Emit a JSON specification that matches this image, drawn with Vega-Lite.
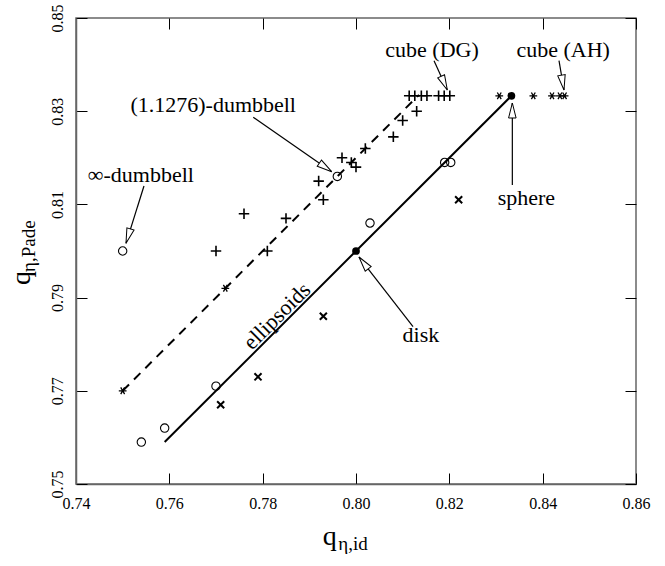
{
  "$schema": "https://vega.github.io/schema/vega-lite/v6.json",
  "width": 560,
  "height": 466,
  "autosize": {"type": "none"},
  "padding": {"left": 76, "top": 18, "right": 29, "bottom": 82},
  "background": "white",
  "config": {
    "font": "Liberation Serif",
    "view": {"stroke": "#666666", "strokeWidth": 1.5},
    "axis": {
      "labelFont": "Liberation Serif",
      "labelFontSize": 16,
      "labelColor": "black",
      "domainColor": "#666666",
      "domainWidth": 1.5,
      "tickColor": "black",
      "tickWidth": 1,
      "tickSize": -11,
      "grid": false,
      "labelFlush": false,
      "labelOverlap": false,
      "titleFont": "Liberation Serif"
    }
  },
  "datasets": {
    "points": [
      {"kind": "circle", "x": 0.75, "y": 0.80},
      {"kind": "circle", "x": 0.796, "y": 0.816},
      {"kind": "circle", "x": 0.819, "y": 0.819},
      {"kind": "circle", "x": 0.8203, "y": 0.819},
      {"kind": "circle", "x": 0.803, "y": 0.806},
      {"kind": "circle", "x": 0.770, "y": 0.771},
      {"kind": "circle", "x": 0.759, "y": 0.762},
      {"kind": "circle", "x": 0.754, "y": 0.759},
      {"kind": "cross", "x": 0.771, "y": 0.767},
      {"kind": "cross", "x": 0.779, "y": 0.773},
      {"kind": "cross", "x": 0.793, "y": 0.786},
      {"kind": "cross", "x": 0.822, "y": 0.811},
      {"kind": "plus", "x": 0.770, "y": 0.800},
      {"kind": "plus", "x": 0.776, "y": 0.808},
      {"kind": "plus", "x": 0.781, "y": 0.800},
      {"kind": "plus", "x": 0.785, "y": 0.807},
      {"kind": "plus", "x": 0.793, "y": 0.811},
      {"kind": "plus", "x": 0.792, "y": 0.815},
      {"kind": "plus", "x": 0.797, "y": 0.820},
      {"kind": "plus", "x": 0.799, "y": 0.819},
      {"kind": "plus", "x": 0.800, "y": 0.818},
      {"kind": "plus", "x": 0.802, "y": 0.822},
      {"kind": "plus", "x": 0.808, "y": 0.8245},
      {"kind": "plus", "x": 0.810, "y": 0.828},
      {"kind": "plus", "x": 0.813, "y": 0.830},
      {"kind": "plus", "x": 0.8114, "y": 0.8333},
      {"kind": "plus", "x": 0.8126, "y": 0.8333},
      {"kind": "plus", "x": 0.8140, "y": 0.8333},
      {"kind": "plus", "x": 0.8152, "y": 0.8333},
      {"kind": "plus", "x": 0.8177, "y": 0.8333},
      {"kind": "plus", "x": 0.8189, "y": 0.8333},
      {"kind": "plus", "x": 0.8201, "y": 0.8333},
      {"kind": "star", "x": 0.75, "y": 0.77},
      {"kind": "star", "x": 0.772, "y": 0.792},
      {"kind": "star", "x": 0.8307, "y": 0.8333},
      {"kind": "star", "x": 0.838, "y": 0.8333},
      {"kind": "star", "x": 0.842, "y": 0.8333},
      {"kind": "star", "x": 0.8437, "y": 0.8333},
      {"kind": "star", "x": 0.8447, "y": 0.8333},
      {"kind": "dot", "x": 0.80, "y": 0.80},
      {"kind": "dot", "x": 0.8333, "y": 0.8333}
    ],
    "lines": [
      {"series": "ellipsoids", "x": 0.759, "y": 0.759},
      {"series": "ellipsoids", "x": 0.8333, "y": 0.8333},
      {"series": "dumbbell", "x": 0.75, "y": 0.77},
      {"series": "dumbbell", "x": 0.8135, "y": 0.8335}
    ],
    "arrows": [
      {"name": "cube (DG)", "x1": 0.81672, "y1": 0.84084, "x2": 0.81957, "y2": 0.83455},
      {"name": "cube (AH)", "x1": 0.8435, "y1": 0.84084, "x2": 0.84457, "y2": 0.83455},
      {"name": "sphere", "x1": 0.8335, "y1": 0.81416, "x2": 0.8335, "y2": 0.83176},
      {"name": "disk", "x1": 0.81222, "y1": 0.78376, "x2": 0.80064, "y2": 0.79871},
      {"name": "(1.1276)-dumbbell", "x1": 0.77799, "y1": 0.82869, "x2": 0.79479, "y2": 0.81702},
      {"name": "∞-dumbbell", "x1": 0.75457, "y1": 0.81395, "x2": 0.75071, "y2": 0.80165}
    ],
    "labels": [
      {"text": "cube (DG)", "x": 0.8163, "y": 0.8431},
      {"text": "cube (AH)", "x": 0.8444, "y": 0.8431},
      {"text": "(1.1276)-dumbbell", "x": 0.7694, "y": 0.8313},
      {"text": "∞-dumbbell", "x": 0.7539, "y": 0.8163},
      {"text": "sphere", "x": 0.8365, "y": 0.8113},
      {"text": "disk", "x": 0.8139, "y": 0.7820}
    ],
    "rotlabels": [
      {"text": "ellipsoids", "x": 0.78307, "y": 0.78605}
    ],
    "titles": [
      {"part": "xmain", "text": "q", "x": 0.7959, "y": 0.73691},
      {"part": "xsub", "text": "η,id", "x": 0.7962, "y": 0.73584},
      {"part": "ymain", "text": "q", "x": 0.7301, "y": 0.7957},
      {"part": "ysub", "text": "η,Pade", "x": 0.73121, "y": 0.7955}
    ]
  },
  "resolve": {"axis": {"x": "independent", "y": "independent"}},
  "layer": [
    {
      "data": {"name": "lines"},
      "transform": [{"filter": "datum.series === 'ellipsoids'"}],
      "mark": {"type": "line", "color": "black", "strokeWidth": 2},
      "encoding": {
        "x": {"field": "x", "type": "quantitative", "scale": {"domain": [0.74, 0.86], "nice": false, "zero": false},
          "axis": {"orient": "bottom", "values": [0.74, 0.76, 0.78, 0.80, 0.82, 0.84, 0.86], "format": ".2f", "labelPadding": 22, "title": null}},
        "y": {"field": "y", "type": "quantitative", "scale": {"domain": [0.75, 0.85], "nice": false, "zero": false},
          "axis": {"orient": "left", "values": [0.75, 0.77, 0.79, 0.81, 0.83, 0.85], "format": ".2f", "labelAngle": -90, "labelAlign": "center", "labelBaseline": "bottom", "labelPadding": 22, "title": null}}
      }
    },
    {
      "data": {"name": "lines"},
      "transform": [{"filter": "datum.series === 'dumbbell'"}],
      "mark": {"type": "line", "color": "black", "strokeWidth": 2, "strokeDash": [9, 7]},
      "encoding": {
        "x": {"field": "x", "type": "quantitative", "scale": {"domain": [0.74, 0.86], "nice": false, "zero": false},
          "axis": {"orient": "top", "values": [0.74, 0.76, 0.78, 0.80, 0.82, 0.84, 0.86], "labels": false, "domain": false, "title": null}},
        "y": {"field": "y", "type": "quantitative", "scale": {"domain": [0.75, 0.85], "nice": false, "zero": false},
          "axis": {"orient": "right", "values": [0.75, 0.77, 0.79, 0.81, 0.83, 0.85], "labels": false, "domain": false, "title": null}}
      }
    },
    {
      "data": {"name": "arrows"},
      "mark": {"type": "rule", "color": "black", "strokeWidth": 1.2},
      "encoding": {
        "x": {"field": "x1", "type": "quantitative", "axis": null},
        "y": {"field": "y1", "type": "quantitative", "axis": null},
        "x2": {"field": "x2"},
        "y2": {"field": "y2"}
      }
    },
    {
      "data": {"name": "arrows"},
      "transform": [{"calculate": "atan2((datum.x2 - datum.x1) * 560 / 0.12, (datum.y2 - datum.y1) * 466 / 0.10) * 180 / PI", "as": "dir"}],
      "mark": {"type": "point", "shape": "M0,0L-0.25,1L0.25,1Z", "size": 900, "filled": true, "fill": "white", "stroke": "black", "strokeWidth": 1, "opacity": 1},
      "encoding": {
        "x": {"field": "x2", "type": "quantitative", "axis": null},
        "y": {"field": "y2", "type": "quantitative", "axis": null},
        "angle": {"field": "dir", "type": "quantitative", "scale": null}
      }
    },
    {
      "data": {"name": "points"},
      "transform": [{"filter": "datum.kind === 'circle'"}],
      "mark": {"type": "point", "shape": "circle", "size": 70, "filled": false, "stroke": "black", "strokeWidth": 1.1, "opacity": 1},
      "encoding": {
        "x": {"field": "x", "type": "quantitative", "axis": null},
        "y": {"field": "y", "type": "quantitative", "axis": null}
      }
    },
    {
      "data": {"name": "points"},
      "transform": [{"filter": "datum.kind === 'cross'"}],
      "mark": {"type": "point", "shape": "M-1,-1L1,1M-1,1L1,-1", "size": 50, "filled": false, "stroke": "black", "strokeWidth": 2, "opacity": 1},
      "encoding": {
        "x": {"field": "x", "type": "quantitative", "axis": null},
        "y": {"field": "y", "type": "quantitative", "axis": null}
      }
    },
    {
      "data": {"name": "points"},
      "transform": [{"filter": "datum.kind === 'plus'"}],
      "mark": {"type": "point", "shape": "M-1,0L1,0M0,-1L0,1", "size": 110, "filled": false, "stroke": "black", "strokeWidth": 1.6, "opacity": 1},
      "encoding": {
        "x": {"field": "x", "type": "quantitative", "axis": null},
        "y": {"field": "y", "type": "quantitative", "axis": null}
      }
    },
    {
      "data": {"name": "points"},
      "transform": [{"filter": "datum.kind === 'star'"}],
      "mark": {"type": "point", "shape": "M-1,0L1,0M-0.5,-0.87L0.5,0.87M-0.5,0.87L0.5,-0.87", "size": 60, "filled": false, "stroke": "black", "strokeWidth": 1.3, "opacity": 1},
      "encoding": {
        "x": {"field": "x", "type": "quantitative", "axis": null},
        "y": {"field": "y", "type": "quantitative", "axis": null}
      }
    },
    {
      "data": {"name": "points"},
      "transform": [{"filter": "datum.kind === 'dot'"}],
      "mark": {"type": "point", "shape": "circle", "size": 60, "filled": true, "color": "black", "opacity": 1},
      "encoding": {
        "x": {"field": "x", "type": "quantitative", "axis": null},
        "y": {"field": "y", "type": "quantitative", "axis": null}
      }
    },
    {
      "data": {"name": "labels"},
      "mark": {"type": "text", "font": "Liberation Serif", "fontSize": 22, "color": "black", "align": "center", "baseline": "middle"},
      "encoding": {
        "x": {"field": "x", "type": "quantitative", "axis": null},
        "y": {"field": "y", "type": "quantitative", "axis": null},
        "text": {"field": "text"}
      }
    },
    {
      "data": {"name": "rotlabels"},
      "mark": {"type": "text", "font": "Liberation Serif", "fontSize": 22, "color": "black", "align": "center", "baseline": "middle", "angle": -45},
      "encoding": {
        "x": {"field": "x", "type": "quantitative", "axis": null},
        "y": {"field": "y", "type": "quantitative", "axis": null},
        "text": {"field": "text"}
      }
    },
    {
      "data": {"name": "titles"},
      "transform": [{"filter": "datum.part === 'xmain'"}],
      "mark": {"type": "text", "font": "Liberation Serif", "fontSize": 28, "color": "black", "align": "right", "baseline": "alphabetic"},
      "encoding": {
        "x": {"field": "x", "type": "quantitative", "axis": null},
        "y": {"field": "y", "type": "quantitative", "axis": null},
        "text": {"field": "text"}
      }
    },
    {
      "data": {"name": "titles"},
      "transform": [{"filter": "datum.part === 'xsub'"}],
      "mark": {"type": "text", "font": "Liberation Serif", "fontSize": 19, "color": "black", "align": "left", "baseline": "alphabetic"},
      "encoding": {
        "x": {"field": "x", "type": "quantitative", "axis": null},
        "y": {"field": "y", "type": "quantitative", "axis": null},
        "text": {"field": "text"}
      }
    },
    {
      "data": {"name": "titles"},
      "transform": [{"filter": "datum.part === 'ymain'"}],
      "mark": {"type": "text", "font": "Liberation Serif", "fontSize": 28, "color": "black", "align": "right", "baseline": "alphabetic", "angle": -90},
      "encoding": {
        "x": {"field": "x", "type": "quantitative", "axis": null},
        "y": {"field": "y", "type": "quantitative", "axis": null},
        "text": {"field": "text"}
      }
    },
    {
      "data": {"name": "titles"},
      "transform": [{"filter": "datum.part === 'ysub'"}],
      "mark": {"type": "text", "font": "Liberation Serif", "fontSize": 19, "color": "black", "align": "left", "baseline": "alphabetic", "angle": -90},
      "encoding": {
        "x": {"field": "x", "type": "quantitative", "axis": null},
        "y": {"field": "y", "type": "quantitative", "axis": null},
        "text": {"field": "text"}
      }
    }
  ]
}
